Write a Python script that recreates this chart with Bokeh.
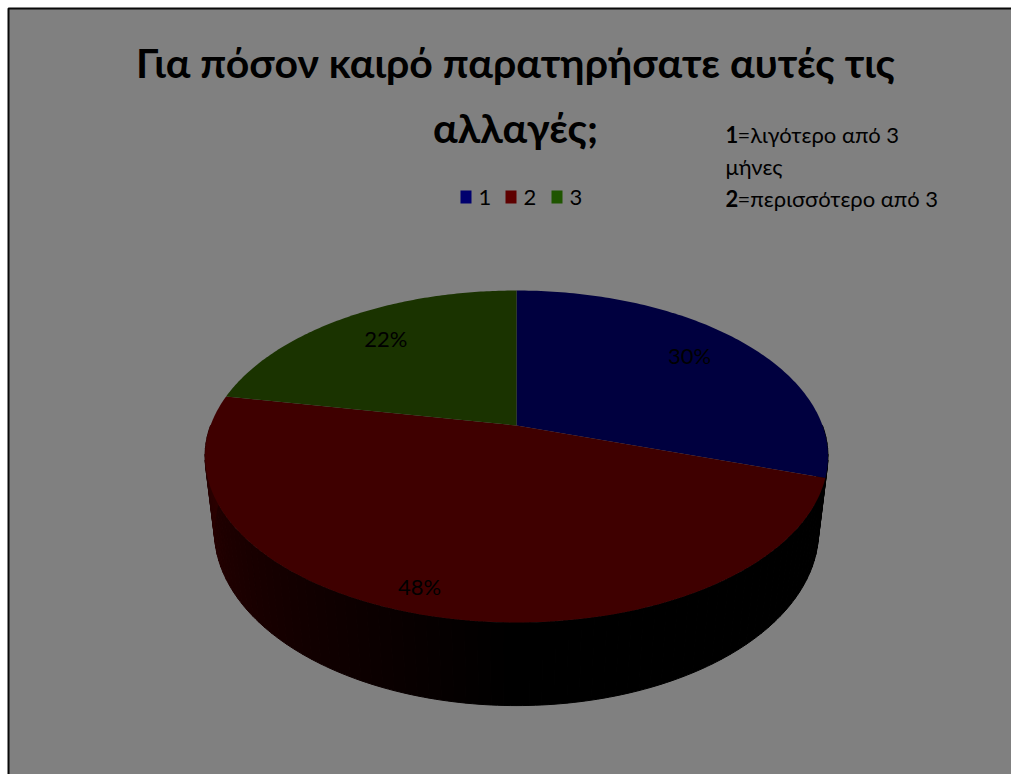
import numpy as np
from bokeh.embed import file_html
from bokeh.models import Range1d
from bokeh.plotting import figure
from bokeh.resources import INLINE
from bokeh.core.properties import value

# Survey answers, percent of respondents
categories = ["1", "2", "3"]
shares = [30, 48, 22]
percent_labels = ["30%", "48%", "22%"]
top_colors = ["#00003f", "#3f0000", "#1a3300"]
legend_colors = ["#00006e", "#5e0000", "#1f5500"]
wall_colors = [(0, 0, 0), (0x2c, 0, 0), (0x10, 0x20, 0)]
title_lines = ["Για πόσον καιρό παρατηρήσατε αυτές τις", "αλλαγές;"]
note_lines = [("1", "=λιγότερο από 3"), ("", "μήνες"), ("2", "=περισσότερο από 3")]

FONT = value("Lato")
W, H = 1011, 774
CX, CY = 516.0, 425.0      # where the slices meet
A, B = 306.0, 160.2        # horizontal and depth scale of the disc
K = 0.1867                 # perspective strength along the depth axis
DROP, SHRINK = 76.0, 0.03  # thickness of the disc and its perspective shrink


def project(theta, z=0.0, r=1.0):
    """Map a point on the disc (angle clockwise from 12 o'clock) to the page."""
    u, v = r * np.sin(theta), r * np.cos(theta)
    w = 1 + K * v + SHRINK * z
    return CX + A * u / w, CY + (DROP * z - B * v) / w


def shade(rgb, f):
    return "#%02x%02x%02x" % tuple(int(round(c * f)) for c in rgb)


p = figure(width=W, height=H, output_backend="svg", toolbar_location=None,
           x_range=Range1d(0, W), y_range=Range1d(H, 0),
           min_border=0, outline_line_color=None, background_fill_color="#ffffff",
           border_fill_color="#ffffff")
p.axis.visible = False
p.grid.visible = False

# Slide panel with its dark edge on the left and top
p.quad(left=[8], right=[W + 5], top=[8], bottom=[H + 5], fill_color="#808080",
       line_color="#0a0a0a", line_width=2)

edges = np.radians(np.concatenate([[0], np.cumsum(shares)]) * 3.6)

# Wall of the disc, drawn as thin facets along the front half
step = np.radians(2.0)
for t in np.arange(np.pi / 2, 3 * np.pi / 2, step):
    tt = np.linspace(t, t + step, 3)
    x0, y0 = project(tt)
    x1, y1 = project(tt[::-1], 1.0)
    mid = t + step / 2
    idx = int(np.searchsorted(edges, mid, side="right")) - 1
    f = np.clip((mid - np.pi) / (np.pi / 2), 0, 1)
    col = shade(wall_colors[idx], f)
    p.patch(np.concatenate([x0, x1]), np.concatenate([y0, y1]),
            fill_color=col, line_color=col, line_width=1)

# Top face of the disc
for i, col in enumerate(top_colors):
    x, y = project(np.linspace(edges[i], edges[i + 1], 120))
    p.patch(np.concatenate([[CX], x]), np.concatenate([[CY], y]),
            fill_color=col, line_color=None)

# Percent labels on the slices
label_spots = [(52.3, 0.778), (197.5, 0.887), (321.8, 0.769)]
for txt, (deg, r) in zip(percent_labels, label_spots):
    lx, ly = project(np.radians(deg), r=r)
    p.text([lx], [ly], text=[txt], text_color="#000000", text_font=FONT,
           text_font_size="22px", text_align="center", text_baseline="middle")

# Title
for y, line in zip([62, 127], title_lines):
    p.text([515], [y], text=[line], text_color="#000000", text_font=FONT,
           text_font_style="bold", text_font_size="41px", text_align="center",
           text_baseline="middle")

# Legend
for x, name, col in zip([460, 505, 551], categories, legend_colors):
    p.quad(left=[x], right=[x + 11], top=[190], bottom=[203], fill_color=col, line_color=None)
    p.text([x + 18], [197], text=[name], text_color="#000000", text_font=FONT,
           text_font_size="22px", text_baseline="middle")

# Side note explaining the answer codes
for y, (code, rest) in zip([134, 166, 198], note_lines):
    x = 725
    if code:
        p.text([x], [y], text=[code], text_color="#000000", text_font_style="bold",
               text_font=FONT, text_font_size="22px", text_baseline="middle")
        x += 12
    p.text([x], [y], text=[rest], text_color="#000000", text_font=FONT,
           text_font_size="22px", text_baseline="middle")

open("out.html", "w").write(file_html(p, INLINE))
